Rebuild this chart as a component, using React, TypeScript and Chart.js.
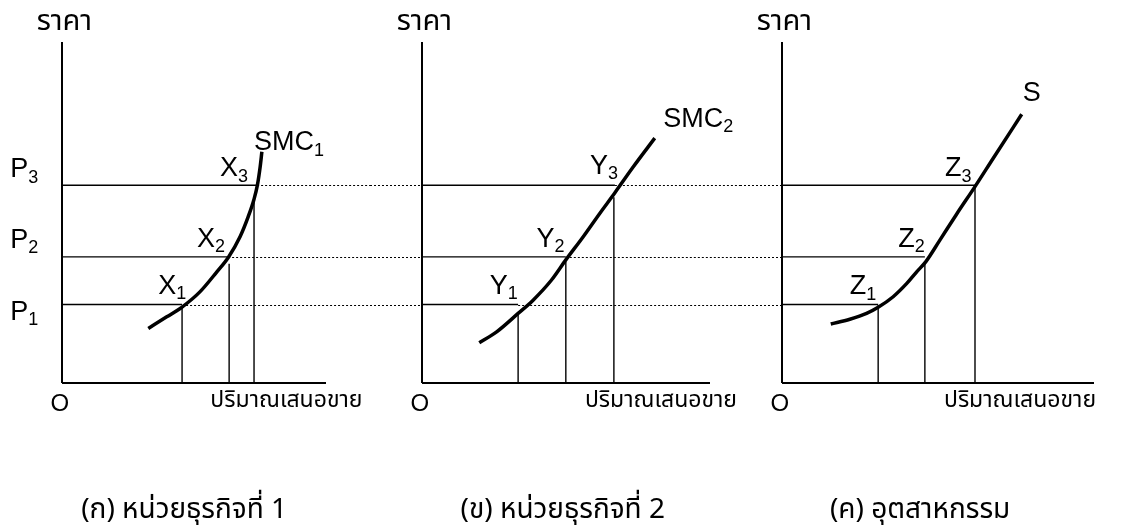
import React, { useEffect, useRef } from "react";
import { Chart, registerables } from "chart.js";

Chart.register(...registerables);

// ---- shared price levels (value axis 0..100) ----
const priceMax = 100;
const priceLevels = [23, 37, 58];
const priceLabelMain = ["P", "P", "P"];
const priceLabelSub = ["1", "2", "3"];
const priceLabelY = [20.8, 41.9, 62.5];

// ---- panel (ก) firm 1 ----
const firm1QMax = 77.4;
const firm1CurveQ = [25.3, 30.7, 35.1, 40.5, 45.4, 48.8, 52.2, 54.6, 56.3, 57.3, 58.1, 58.6];
const firm1CurveP = [16.0, 19.4, 22.2, 26.8, 32.6, 36.9, 42.9, 48.8, 53.9, 58.1, 63.4, 67.8];
const firm1PriceEnd = [35.2, 48.7, 57.2];
const firm1Quantity = [35.2, 49.0, 56.3];
const firm1QuantityTop = [22.2, 35.0, 53.9];
const firm1PointMain = ["X", "X", "X", "SMC"];
const firm1PointSub = ["1", "2", "3", "1"];
const firm1PointQ = [28.2, 39.6, 46.3, 56.3];
const firm1PointP = [28.4, 42.2, 62.8, 70.5];

// ---- panel (ข) firm 2 ----
const firm2QMax = 84.5;
const firm2CurveQ = [16.8, 21.9, 28.2, 32.6, 38.0, 42.2, 47.3, 52.2, 56.6, 62.0, 68.3];
const firm2CurveP = [11.8, 15.0, 20.4, 24.3, 30.2, 36.1, 42.9, 49.8, 55.8, 63.4, 71.8];
const firm2PriceEnd = [28.2, 42.2, 56.6];
const firm2Quantity = [28.2, 42.2, 56.3];
const firm2QuantityTop = [20.5, 35.5, 54.5];
const firm2PointMain = ["Y", "Y", "Y", "SMC"];
const firm2PointSub = ["1", "2", "3", "2"];
const firm2PointQ = [19.9, 33.6, 49.3, 70.8];
const firm2PointP = [28.4, 42.2, 63.6, 77.4];

// ---- panel (ค) industry ----
const industryQMax = 91.5;
const industryCurveQ = [14.3, 19.9, 24.8, 28.2, 32.6, 36.6, 39.5, 42.2, 46.3, 51.2, 56.6, 62.0, 70.3];
const industryCurveP = [17.3, 18.7, 20.4, 22.2, 25.3, 29.2, 32.6, 35.6, 41.9, 49.5, 57.6, 66.0, 78.8];
const industryPriceEnd = [28.2, 41.9, 56.6];
const industryQuantity = [28.2, 41.9, 56.6];
const industryQuantityTop = [22.9, 35.2, 57.5];
const industryPointMain = ["Z", "Z", "Z", "S"];
const industryPointSub = ["1", "2", "3", ""];
const industryPointQ = [19.9, 34.1, 47.8, 70.6];
const industryPointP = [28.3, 42.2, 62.8, 84.8];

// ---- texts ----
const yAxisTitle = "ราคา";
const xAxisTitle = "ปริมาณเสนอขาย";
const originLabel = "O";
const captions = ["(ก) หน่วยธุรกิจที่ 1", "(ข) หน่วยธุรกิจที่ 2", "(ค) อุตสาหกรรม"];

const LATIN_FONT = "'Liberation Sans', Arial, sans-serif";
const THAI_FONT = "Tahoma, 'Noto Sans Thai', 'Loma', 'Garuda', 'Liberation Sans', sans-serif";

type Panel = {
  qMax: number;
  curveQ: number[];
  curveP: number[];
  priceEnd: number[];
  quantity: number[];
  quantityTop: number[];
  pointMain: string[];
  pointSub: string[];
  pointQ: number[];
  pointP: number[];
  caption: string;
  captionQ: number;
  xTitleQ: number;
  showPriceLabels: boolean;
  dotLeft: boolean;
  dotRight: boolean;
  left: number;
  width: number;
  padLeft: number;
  padRight: number;
};

const panels: Panel[] = [
  {
    qMax: firm1QMax, curveQ: firm1CurveQ, curveP: firm1CurveP, priceEnd: firm1PriceEnd,
    quantity: firm1Quantity, quantityTop: firm1QuantityTop, pointMain: firm1PointMain,
    pointSub: firm1PointSub, pointQ: firm1PointQ, pointP: firm1PointP, caption: captions[0],
    captionQ: 35.8, xTitleQ: 43.5, showPriceLabels: true, dotLeft: false, dotRight: true,
    left: 0, width: 370, padLeft: 62, padRight: 44,
  },
  {
    qMax: firm2QMax, curveQ: firm2CurveQ, curveP: firm2CurveP, priceEnd: firm2PriceEnd,
    quantity: firm2Quantity, quantityTop: firm2QuantityTop, pointMain: firm2PointMain,
    pointSub: firm2PointSub, pointQ: firm2PointQ, pointP: firm2PointP, caption: captions[1],
    captionQ: 41.3, xTitleQ: 47.8, showPriceLabels: false, dotLeft: true, dotRight: true,
    left: 370, width: 370, padLeft: 52, padRight: 30,
  },
  {
    qMax: industryQMax, curveQ: industryCurveQ, curveP: industryCurveP, priceEnd: industryPriceEnd,
    quantity: industryQuantity, quantityTop: industryQuantityTop, pointMain: industryPointMain,
    pointSub: industryPointSub, pointQ: industryPointQ, pointP: industryPointP, caption: captions[2],
    captionQ: 40.5, xTitleQ: 47.5, showPriceLabels: false, dotLeft: true, dotRight: false,
    left: 740, width: 381, padLeft: 42, padRight: 27,
  },
];

const CANVAS_H = 532;

function drawSubText(ctx: CanvasRenderingContext2D, main: string, sub: string, x: number, y: number, size: number) {
  ctx.font = `${size}px ${LATIN_FONT}`;
  ctx.textBaseline = "middle";
  ctx.textAlign = "left";
  ctx.fillText(main, x, y);
  const w = ctx.measureText(main).width;
  if (sub) {
    ctx.font = `${Math.round(size * 0.66)}px ${LATIN_FONT}`;
    ctx.fillText(sub, x + w, y + size * 0.3);
  }
}

function makeDecorPlugin(p: Panel) {
  return {
    id: "decor",
    beforeDatasetsDraw(chart: any) {
      const ctx: CanvasRenderingContext2D = chart.ctx;
      const xs = chart.scales.x;
      const ys = chart.scales.y;
      const X = (v: number) => xs.getPixelForValue(v);
      const Y = (v: number) => ys.getPixelForValue(v);
      ctx.save();
      ctx.strokeStyle = "#000";
      // dotted continuation lines
      ctx.lineWidth = 1;
      ctx.setLineDash([2, 2]);
      priceLevels.forEach((lvl, i) => {
        const py = Math.round(Y(lvl)) + 0.5;
        if (p.dotRight) {
          ctx.beginPath();
          ctx.moveTo(X(p.priceEnd[i]), py);
          ctx.lineTo(chart.width, py);
          ctx.stroke();
        }
        if (p.dotLeft) {
          ctx.beginPath();
          ctx.moveTo(0, py);
          ctx.lineTo(X(0), py);
          ctx.stroke();
        }
      });
      ctx.setLineDash([]);
      // axes
      ctx.lineWidth = 2;
      ctx.beginPath();
      ctx.moveTo(X(0), Y(priceMax));
      ctx.lineTo(X(0), Y(0));
      ctx.moveTo(X(0), Y(0));
      ctx.lineTo(X(p.qMax), Y(0));
      ctx.stroke();
      ctx.restore();
    },
    afterDatasetsDraw(chart: any) {
      const ctx: CanvasRenderingContext2D = chart.ctx;
      const xs = chart.scales.x;
      const ys = chart.scales.y;
      const X = (v: number) => xs.getPixelForValue(v);
      const Y = (v: number) => ys.getPixelForValue(v);
      ctx.save();
      ctx.fillStyle = "#000";
      // point labels
      p.pointMain.forEach((m, i) => {
        drawSubText(ctx, m, p.pointSub[i], X(p.pointQ[i]), Y(p.pointP[i]), 27);
      });
      // price labels
      if (p.showPriceLabels) {
        priceLabelMain.forEach((m, i) => {
          drawSubText(ctx, m, priceLabelSub[i], X(-15.2), Y(priceLabelY[i]), 27);
        });
      }
      // axis titles
      ctx.textBaseline = "middle";
      ctx.textAlign = "center";
      ctx.font = `29px ${THAI_FONT}`;
      ctx.fillText(yAxisTitle, X(0.7), Y(105.3));
      ctx.font = `24px ${LATIN_FONT}`;
      ctx.fillText(originLabel, X(-0.6), Y(-6.3));
      ctx.textAlign = "left";
      ctx.font = `23px ${THAI_FONT}`;
      ctx.fillText(xAxisTitle, X(p.xTitleQ), Y(-5.8));
      ctx.textAlign = "center";
      ctx.font = `28px ${THAI_FONT}`;
      ctx.fillText(p.caption, X(p.captionQ), Y(-37.8));
      ctx.restore();
    },
  };
}

function PanelChart({ p }: { p: Panel }) {
  const ref = useRef<HTMLCanvasElement>(null);
  useEffect(() => {
    if (!ref.current) return;
    const lineDs = (data: { x: number; y: number }[], width: number) => ({
      data,
      borderColor: "#000",
      borderWidth: width,
      pointRadius: 0,
      fill: false,
      tension: 0,
    });
    const datasets: any[] = [];
    priceLevels.forEach((lvl, i) => {
      datasets.push(lineDs([{ x: 0, y: lvl }, { x: p.priceEnd[i], y: lvl }], 1.4));
    });
    p.quantity.forEach((q, i) => {
      datasets.push(lineDs([{ x: q, y: 0 }, { x: q, y: p.quantityTop[i] }], 1.4));
    });
    datasets.push({
      ...lineDs(p.curveQ.map((q, i) => ({ x: q, y: p.curveP[i] })), 3.5),
      cubicInterpolationMode: "monotone",
      borderCapStyle: "butt",
    });
    const chart = new Chart(ref.current, {
      type: "line",
      data: { datasets },
      options: {
        animation: false,
        responsive: false,
        events: [],
        layout: {
          padding: { left: p.padLeft, right: p.padRight, top: 42, bottom: CANVAS_H - 383 },
        },
        plugins: { legend: { display: false }, tooltip: { enabled: false } },
        scales: {
          x: { type: "linear", min: 0, max: p.qMax, display: false },
          y: { type: "linear", min: 0, max: priceMax, display: false },
        },
      },
      plugins: [makeDecorPlugin(p)],
    } as any);
    return () => chart.destroy();
  }, [p]);
  return (
    <canvas
      ref={ref}
      width={p.width}
      height={CANVAS_H}
      style={{ position: "absolute", left: p.left, top: 0, width: p.width, height: CANVAS_H }}
    />
  );
}

export default function App() {
  return (
    <div style={{ position: "absolute", left: 0, top: 0, width: 1121, height: CANVAS_H, background: "#fff" }}>
      {panels.map((p, i) => (
        <PanelChart key={i} p={p} />
      ))}
    </div>
  );
}
